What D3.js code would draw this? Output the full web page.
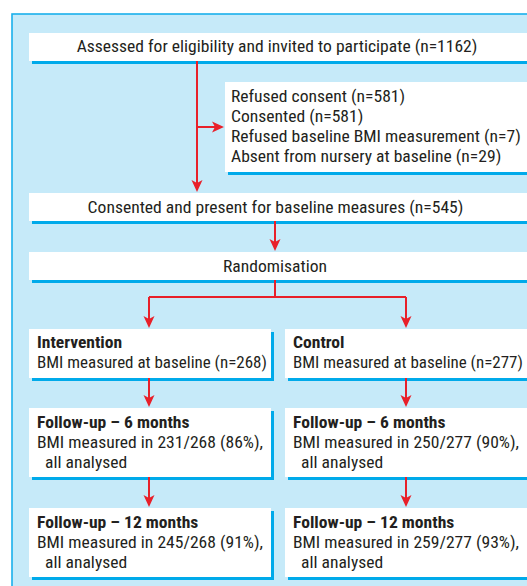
<!DOCTYPE html>
<html>
<head>
<meta charset="utf-8">
<script src="https://cdn.jsdelivr.net/npm/d3@7"></script>
<style>
  html, body { margin: 0; padding: 0; background: #ffffff; }
  svg { display: block; }
</style>
</head>
<body>
<div id="chart"></div>
<script>
// ---------------- data ----------------
const assessedN = 1162;
const exclusionLabels = ["Refused consent", "Consented", "Refused baseline BMI measurement", "Absent from nursery at baseline"];
const exclusionCounts = [581, 581, 7, 29];
const presentN = 545;
const arms = ["Intervention", "Control"];
const baselineCounts = [268, 277];
const stageLabels = ["Follow-up \u2013 6 months", "Follow-up \u2013 12 months"];
const followUpMeasured = [[231, 245], [250, 259]];   // [arm][stage]
const followUpPercent = [[86, 91], [90, 93]];        // [arm][stage]

// ---------------- layout ----------------
const W = 527, H = 586;
const FONT = "'Liberation Sans Narrow', 'Arial Narrow', 'Roboto Condensed', 'Liberation Sans', Arial, sans-serif";
const FS = 16;
const C = { panel: "#c6eaf9", border: "#1ab0ec", shadow: "#00aaea", red: "#e8202a", text: "#231f20" };

const svg = d3.select("#chart").append("svg").attr("width", W).attr("height", H);

// measure horizontal condensation factor so text matches reference width
const probeText = `Assessed for eligibility and invited to participate (n=${assessedN})`;
const probe = svg.append("text").attr("font-family", FONT).attr("font-size", FS).text(probeText);
const natW = probe.node().getComputedTextLength();
probe.remove();
const SX = natW > 0 ? 401 / natW : 1;

// panel
svg.append("rect").attr("x", 12).attr("y", 14).attr("width", W).attr("height", H)
  .attr("fill", C.panel).attr("stroke", C.border).attr("stroke-width", 1.6);

function box(x, y0, w, h) {
  svg.append("rect").attr("x", x + 3).attr("y", y0 + 3).attr("width", w).attr("height", h).attr("fill", C.shadow);
  svg.append("rect").attr("x", x).attr("y", y0).attr("width", w).attr("height", h).attr("fill", "#ffffff");
}
function txt(x, y0, s, opts = {}) {
  const t = svg.append("text")
    .attr("font-family", FONT).attr("font-size", FS)
    .attr("font-weight", opts.bold ? "bold" : "normal")
    .attr("text-anchor", opts.anchor || "start")
    .attr("fill", C.text)
    .text(s);
  const nw = t.node().getComputedTextLength();
  let sx = SX;
  if (opts.maxW && nw * sx > opts.maxW) sx = opts.maxW / nw;
  t.attr("transform", `translate(${x},${y0}) scale(${sx},1)`);
}
function line(pts) {
  svg.append("path").attr("d", d3.line()(pts)).attr("fill", "none")
    .attr("stroke", C.red).attr("stroke-width", 2);
}
function head(x, y0, angle) {
  // tip at (x,y0); angle in degrees, 90 = pointing down, 0 = pointing right
  svg.append("path").attr("d", "M0,0 L-12,-5.5 L-9,0 L-12,5.5 Z")
    .attr("transform", `translate(${x},${y0}) rotate(${angle})`)
    .attr("fill", C.red);
}

// top boxes
const boxR = W + 10;
box(29, 33, boxR - 29, 28);
txt(277, 52, probeText, { anchor: "middle" });

box(225, 82, boxR - 225, 90);
exclusionLabels.forEach((lab, i) => txt(231, 102 + i * 20, `${lab} (n=${exclusionCounts[i]})`, { maxW: 292 }));

box(29, 193, boxR - 29, 28);
txt(275.5, 213, `Consented and present for baseline measures (n=${presentN})`, { anchor: "middle" });

box(29, 252, boxR - 29, 28);
txt(275, 272, "Randomisation", { anchor: "middle" });

// arrows at top
line([[197, 61], [197, 190]]); head(197, 192, 90);
line([[197, 127], [222, 127]]); head(224, 127, 0);
line([[275, 221], [275, 249]]); head(275, 251, 90);

// arm columns
const armX = [29, 285];
const armW = [242, boxR - 285];
const armArrowX = [149, 406];
const textMax = 230;
line([[275, 280], [275, 297]]);
line([[armArrowX[0], 297], [armArrowX[1], 297]]);
armArrowX.forEach(ax => { line([[ax, 297], [ax, 325]]); head(ax, 328, 90); });

const rowTop = [329, 408, 508];
const rowH = [49, 69, 69];
arms.forEach((arm, a) => {
  const bx = armX[a], tx = bx + 8;
  box(bx, rowTop[0], armW[a], rowH[0]);
  txt(tx, 348, arm, { bold: true, maxW: textMax });
  txt(tx, 368, `BMI measured at baseline (n=${baselineCounts[a]})`, { maxW: textMax });
  stageLabels.forEach((st, s) => {
    const top = rowTop[s + 1];
    box(bx, top, armW[a], rowH[s + 1]);
    txt(tx, top + 20, st, { bold: true, maxW: textMax });
    txt(tx, top + 40, `BMI measured in ${followUpMeasured[a][s]}/${baselineCounts[a]} (${followUpPercent[a][s]}%),`, { maxW: textMax });
    txt(tx + 8, top + 59.5, "all analysed", { maxW: textMax });
  });
  for (let r = 0; r < 2; r++) {
    const y1 = rowTop[r] + rowH[r], y2 = rowTop[r + 1];
    line([[armArrowX[a], y1], [armArrowX[a], y2 - 3]]);
    head(armArrowX[a], y2 - 1, 90);
  }
});
</script>
</body>
</html>
